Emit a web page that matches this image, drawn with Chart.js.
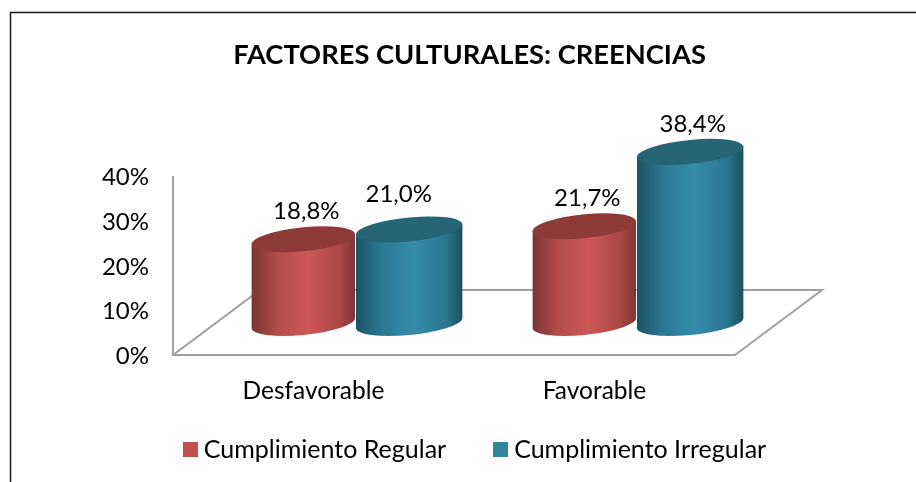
<!DOCTYPE html>
<html>
<head>
<meta charset="utf-8">
<style>
  html, body { margin: 0; padding: 0; background: #fff; }
  #wrap { width: 916px; height: 482px; }
</style>
<script src="https://cdn.jsdelivr.net/npm/chart.js@4"></script>
</head>
<body>
<div id="wrap"><canvas id="chart" width="916" height="482"></canvas></div>
<script>
const categories = ['Desfavorable', 'Favorable'];
const regular = [18.8, 21.7];
const irregular = [21.0, 38.4];
const yTicks = [0, 10, 20, 30, 40];

const FONT = 'Lato, Carlito, Calibri, sans-serif';

// depth of the 3D floor, cylinders stand halfway back
const floorDx = 87, floorDy = -65;
const barDx = 43.5, barDy = -32;
const tilt = -0.095, ellipseRy = 12;

// grow: red is a little narrower than teal in the original, both keep their outer edge
const looks = [
  { flat: '#c0504d', grow: -1, side: [[0, '#7a3533'], [0.25, '#b44c49'], [0.55, '#cd5856'], [0.85, '#aa4744'], [1, '#7e3735']], top: '#8e3a38' },
  { flat: '#31859c', grow: 0.5, side: [[0, '#1d5266'], [0.25, '#2c7a94'], [0.55, '#358ca9'], [0.85, '#2a7690'], [1, '#1c4f60']], top: '#256575' }
];

// legend squares as little canvases, the text gap of a normal box is too wide
function legendSquare(color) {
  const c = document.createElement('canvas');
  c.width = 15;
  c.height = 15;
  const g = c.getContext('2d');
  g.fillStyle = color;
  g.fillRect(0, 0, 15, 15);
  return c;
}
const squares = looks.map(l => legendSquare(l.flat));

function cylinder(ctx, bar, look) {
  const rx = bar.width / 2 + look.grow, cx = bar.x + barDx - Math.abs(look.grow);
  const top = bar.y + barDy, base = bar.base + barDy;
  ctx.save();
  ctx.transform(1, tilt, 0, 1, 0, -tilt * cx);
  const g = ctx.createLinearGradient(cx - rx, 0, cx + rx, 0);
  look.side.forEach(s => g.addColorStop(s[0], s[1]));
  ctx.fillStyle = g;
  ctx.beginPath();
  ctx.moveTo(cx - rx, top);
  ctx.lineTo(cx - rx, base);
  ctx.ellipse(cx, base, rx, ellipseRy, 0, Math.PI, 0, true);
  ctx.lineTo(cx + rx, top);
  ctx.closePath();
  ctx.fill();
  ctx.fillStyle = look.top;
  ctx.beginPath();
  ctx.ellipse(cx, top, rx, ellipseRy, 0, 0, Math.PI * 2);
  ctx.fill();
  ctx.restore();
}

const cylinders = {
  id: 'cylinders',
  afterLayout(chart) {
    // title sits a bit left of the legend in the original
    chart.titleBlock.left = 23;
    // legend overlaps the tall x axis box, move it back up
    chart.legend.top = 384;
  },
  beforeDraw(chart) {
    // outer frame of the pasted picture
    const ctx = chart.ctx;
    ctx.save();
    ctx.strokeStyle = '#1a1a1a';
    ctx.lineWidth = 1.5;
    ctx.beginPath();
    ctx.moveTo(10.5, 482);
    ctx.lineTo(10.5, 12.5);
    ctx.lineTo(916, 12.5);
    ctx.stroke();
    ctx.restore();
  },
  beforeDatasetsDraw(chart) {
    const ctx = chart.ctx, a = chart.chartArea;
    // floor, only the lines the axes do not draw
    ctx.save();
    ctx.strokeStyle = '#a0a0a0';
    ctx.lineWidth = 2;
    ctx.beginPath();
    ctx.moveTo(a.left, a.bottom);
    ctx.lineTo(a.left + floorDx, a.bottom + floorDy);
    ctx.lineTo(a.right + floorDx, a.bottom + floorDy);
    ctx.lineTo(a.right, a.bottom);
    ctx.stroke();
    ctx.restore();

    categories.forEach((c, j) => {
      chart.data.datasets.forEach((ds, i) => {
        cylinder(ctx, chart.getDatasetMeta(i).data[j], looks[i]);
      });
    });

    // value labels
    ctx.save();
    ctx.fillStyle = '#000';
    ctx.font = '24px ' + FONT;
    ctx.textAlign = 'center';
    ctx.textBaseline = 'middle';
    chart.data.datasets.forEach((ds, i) => {
      ds.data.forEach((v, j) => {
        const bar = chart.getDatasetMeta(i).data[j];
        // the 21,0% label was moved by hand in the original
        const moved = (i === 1 && j === 0);
        ctx.fillText(v.toFixed(1).replace('.', ',') + '%',
          bar.x + barDx + (moved ? -11 : 2),
          bar.y + barDy - ellipseRy - (moved ? 23 : 16));
      });
    });
    ctx.restore();
    return false;
  }
};

new Chart(document.getElementById('chart'), {
  type: 'bar',
  data: {
    labels: categories,
    datasets: [
      { label: 'Cumplimiento Regular', data: regular, backgroundColor: looks[0].flat },
      { label: 'Cumplimiento Irregular', data: irregular, backgroundColor: looks[1].flat }
    ]
  },
  options: {
    responsive: false,
    animation: false,
    layout: { padding: { left: 39, bottom: -11 } },
    datasets: { bar: { categoryPercentage: 0.75, barPercentage: 1 } },
    scales: {
      x: {
        grid: { display: false },
        border: { color: '#a0a0a0', width: 2 },
        ticks: { color: '#000', font: { family: FONT, size: 24.5 }, padding: 13 },
        afterFit(s) { s.height = 50; }
      },
      y: {
        min: 0,
        max: 40,
        grid: { display: false },
        border: { color: '#a0a0a0', width: 2 },
        afterFit(s) { s.width = 134; },
        afterBuildTicks(s) { s.ticks = yTicks.map(v => ({ value: v })); },
        ticks: { color: '#000', font: { family: FONT, size: 24 }, padding: 16, labelOffset: 1, callback: v => v + '%' }
      },
      // keeps the plot area off the right side, title and legend stay full width
      spacer: {
        position: 'right',
        grid: { display: false },
        border: { display: false },
        ticks: { display: false },
        afterFit(s) { s.width = 181; }
      }
    },
    plugins: {
      title: {
        display: true,
        text: 'FACTORES CULTURALES: CREENCIAS',
        color: '#000',
        font: { family: FONT, size: 27.3, weight: 'bold' },
        padding: { top: 39, bottom: 105 }
      },
      legend: {
        position: 'bottom',
        labels: {
          font: { family: FONT, size: 25 },
          usePointStyle: true,
          pointStyleWidth: 2.5,
          padding: 53,
          generateLabels: chart => chart.data.datasets.map((ds, i) => ({
            text: ds.label,
            pointStyle: squares[i],
            fontColor: '#000',
            datasetIndex: i
          }))
        }
      },
      tooltip: { enabled: false }
    }
  },
  plugins: [cylinders]
});
</script>
</body>
</html>
